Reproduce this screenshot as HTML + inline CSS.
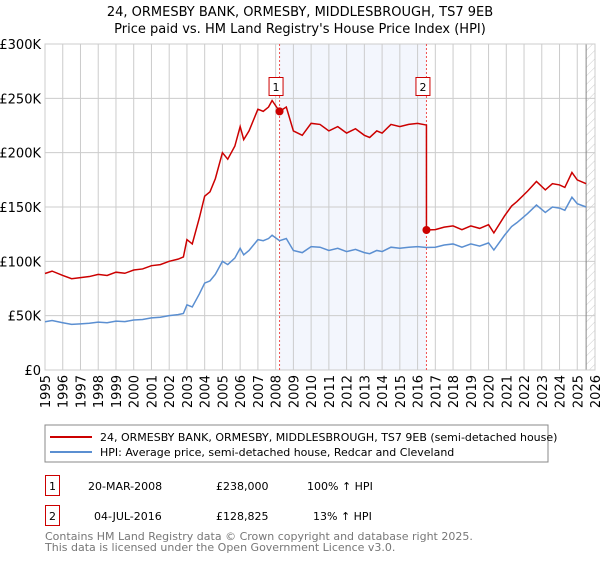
<!DOCTYPE html>
<html><head><meta charset="utf-8"><style>
body{margin:0;background:#fff;font-family:"Liberation Sans","DejaVu Sans",sans-serif;}
svg text{font-family:"DejaVu Sans","Liberation Sans",sans-serif;}
</style></head><body>
<svg id="c" width="600" height="560" xmlns="http://www.w3.org/2000/svg">
<defs><pattern id="hatch" width="6" height="6" patternUnits="userSpaceOnUse" patternTransform="rotate(45)"><line x1="0" y1="0" x2="0" y2="6" stroke="#ccc" stroke-width="1"/></pattern></defs>
<text x="300" y="16" text-anchor="middle" font-size="13" fill="#000">24, ORMESBY BANK, ORMESBY, MIDDLESBROUGH, TS7 9EB</text>
<text x="300" y="33" text-anchor="middle" font-size="13" fill="#000">Price paid vs. HM Land Registry's House Price Index (HPI)</text>
<g id="plot"></g>
<rect x="45" y="425" width="503" height="37" fill="#fff" stroke="#888"/>
<line x1="50" y1="437" x2="92" y2="437" stroke="#cc0000" stroke-width="2"/>
<text x="100" y="441" font-size="11">24, ORMESBY BANK, ORMESBY, MIDDLESBROUGH, TS7 9EB (semi-detached house)</text>
<line x1="50" y1="452" x2="92" y2="452" stroke="#5b8fd1" stroke-width="2"/>
<text x="100" y="456" font-size="11">HPI: Average price, semi-detached house, Redcar and Cleveland</text>
<g>
<rect x="45.5" y="475.5" width="14" height="20" fill="#fff" stroke="#cc0000"/><text x="52.5" y="490" text-anchor="middle" font-size="11">1</text>
<text x="88" y="490" font-size="11">20-MAR-2008</text><text x="216" y="490" font-size="11">£238,000</text><text x="307" y="490" font-size="11">100% ↑ HPI</text></g>
<g>
<rect x="45.5" y="505.5" width="14" height="20" fill="#fff" stroke="#cc0000"/><text x="52.5" y="520" text-anchor="middle" font-size="11">2</text>
<text x="94" y="520" font-size="11">04-JUL-2016</text><text x="216" y="520" font-size="11">£128,825</text><text x="313" y="520" font-size="11">13% ↑ HPI</text></g>
<text x="45" y="540" font-size="11" fill="#777">Contains HM Land Registry data © Crown copyright and database right 2025.</text>
<text x="45" y="551" font-size="11" fill="#777">This data is licensed under the Open Government Licence v3.0.</text>
</svg>
<script>
const years=[1995,1995.4,1996,1996.5,1997,1997.5,1998,1998.5,1999,1999.5,2000,2000.5,2001,2001.5,2002,2002.5,2002.8,2003,2003.3,2003.7,2004,2004.3,2004.6,2005,2005.3,2005.7,2006,2006.2,2006.5,2007,2007.3,2007.6,2007.8,2008.22,2008.6,2009,2009.5,2010,2010.5,2011,2011.5,2012,2012.5,2013,2013.3,2013.7,2014,2014.5,2015,2015.5,2016,2016.5,2017,2017.5,2018,2018.5,2019,2019.5,2020,2020.3,2020.9,2021.3,2021.6,2022.2,2022.7,2023.2,2023.6,2024,2024.3,2024.7,2025,2025.5];
const hpi=[44.4,45.5,43.5,42,42.5,43,44,43.5,45,44.5,46,46.5,48,48.5,50,51,52,60,58,70,80,82,88,100,97,103,112,106,110,120,119,121,124,119,121,110,108,113.5,113,110,112,109,111,108,107,110,109,113,112,113,113.5,112.7,113,115,116,113,116,114,117,110.4,124,132,135.6,144,151.8,145,150,149,147,159,153,150];
const sales=[{t:2008.22,v:238000,label:'1'},{t:2016.5,v:128825,label:'2'}];
const yTicks=[0,50000,100000,150000,200000,250000,300000];
const yLabels=['£0','£50K','£100K','£150K','£200K','£250K','£300K'];
const xTicks=[1995,1996,1997,1998,1999,2000,2001,2002,2003,2004,2005,2006,2007,2008,2009,2010,2011,2012,2013,2014,2015,2016,2017,2018,2019,2020,2021,2022,2023,2024,2025,2026];
const L=45,R=595,T=44,B=370;
const X=t=>L+(t-1995)/(2026-1995)*(R-L);
const Y=v=>B-v/300000*(B-T);
const NS='http://www.w3.org/2000/svg';
const g=document.getElementById('plot');
function mk(tag,attrs,parent){const e=document.createElementNS(NS,tag);for(const k in attrs)e.setAttribute(k,attrs[k]);(parent||g).appendChild(e);return e;}
let e;
e=mk('rect',{x:X(sales[0].t),y:T,width:X(sales[1].t)-X(sales[0].t),height:B-T,fill:'#eef2fc',opacity:0.7});


e=mk('rect',{x:X(2025.5),y:T,width:R-X(2025.5),height:B-T,fill:'url(#hatch)'});


yTicks.forEach((v,i)=>{
 e=mk('line',{x1:L,x2:R,y1:Y(v),y2:Y(v),stroke:'#ccc'});
 
 
 e=mk('text',{x:L-4,y:Y(v)+5,'text-anchor':'end','font-size':13});e.textContent=yLabels[i];
 
 
});
xTicks.forEach(t=>{
 e=mk('line',{x1:X(t),x2:X(t),y1:T,y2:B,stroke:'#ccc'});
 
 
 e=mk('text',{x:0,y:0,'text-anchor':'end','font-size':13,transform:`translate(${X(t)+5},${B+5}) rotate(-90)`});e.textContent=t;
 
 
});
e=mk('line',{x1:X(2025.5),x2:X(2025.5),y1:T,y2:B,stroke:'#888'});


e=mk('rect',{x:L,y:T,width:R-L,height:B-T,fill:'none',stroke:'#ccc'});


sales.forEach(s=>{
 e=mk('line',{x1:X(s.t),x2:X(s.t),y1:T,y2:B,stroke:'#f05050','stroke-dasharray':'2,2'});
 
 
});
function interp(t){for(let i=0;i<years.length-1;i++){if(t>=years[i]&&t<=years[i+1]){const f=(t-years[i])/(years[i+1]-years[i]);return hpi[i]+f*(hpi[i+1]-hpi[i]);}}return hpi[hpi.length-1];}
const r1=sales[0].v/(interp(sales[0].t)*1000), r2=sales[1].v/(interp(sales[1].t)*1000);
let bp=[],rp=[];
years.forEach((t,i)=>{bp.push(X(t)+','+Y(hpi[i]*1000));
 if(t<sales[1].t)rp.push(X(t)+','+Y(hpi[i]*1000*r1));
});
rp.push(X(sales[1].t)+','+Y(interp(sales[1].t)*1000*r1));
rp.push(X(sales[1].t)+','+Y(sales[1].v));
years.forEach((t,i)=>{if(t>sales[1].t)rp.push(X(t)+','+Y(hpi[i]*1000*r2));});
e=mk('polyline',{points:bp.join(' '),fill:'none',stroke:'#5b8fd1','stroke-width':1.5});


e=mk('polyline',{points:rp.join(' '),fill:'none',stroke:'#cc0000','stroke-width':1.5});


sales.forEach(s=>{
 e=mk('circle',{cx:X(s.t),cy:Y(s.v),r:4,fill:'#cc0000'});
 
 
 const bx=X(s.t)-10;
 e=mk('rect',{x:bx-0.5,y:77.5,width:14,height:18,fill:'#fff',stroke:'#cc0000'});
 
 
 e=mk('text',{x:bx+6.5,y:91,'text-anchor':'middle','font-size':11});e.textContent=s.label;
 
 
});
</script>
</body></html>
